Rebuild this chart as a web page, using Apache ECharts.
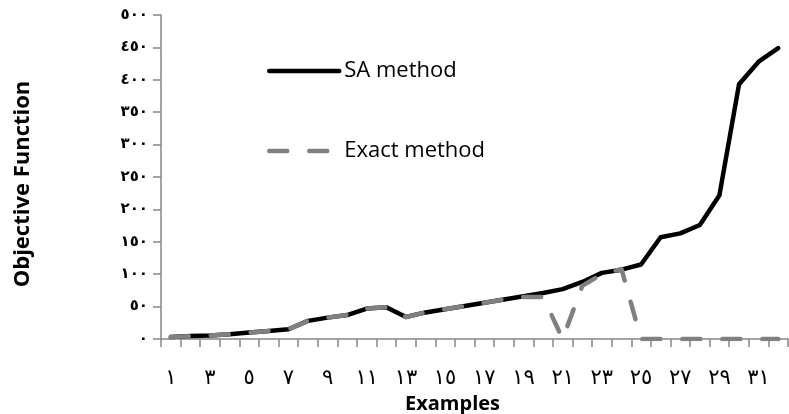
<!DOCTYPE html>
<html>
<head>
<meta charset="utf-8">
<script src="https://cdn.jsdelivr.net/npm/echarts@6/dist/echarts.min.js"></script>
<style>html,body{margin:0;padding:0;background:#fff}#c{width:789px;height:414px}</style>
</head>
<body>
<div id="c"></div>
<script>
var categories = ['١','٢','٣','٤','٥','٦','٧','٨','٩','١٠','١١','١٢','١٣','١٤','١٥','١٦','١٧','١٨','١٩','٢٠','٢١','٢٢','٢٣','٢٤','٢٥','٢٦','٢٧','٢٨','٢٩','٣٠','٣١','٣٢'];
var saValues = [3, 4.5, 5.5, 7.5, 10, 12.5, 15, 28, 33, 37, 47, 49, 34, 41, 46, 51, 56, 61, 66, 71, 77, 88, 102, 107, 115, 157, 163, 176, 222, 393, 428, 449];
var exactValues = [3, 4.5, 5.5, 7.5, 10, 12.5, 15, 28, 33, 37, 47, 49, 34, 41, 46, 51, 56, 61, 65, 65, 0, 82, 100, 108, 0, 0, 0, 0, 0, 0, 0, 0];
var yTickLabels = ['٠','٥٠','١٠٠','١٥٠','٢٠٠','٢٥٠','٣٠٠','٣٥٠','٤٠٠','٤٥٠','٥٠٠'];
var seriesNames = ['SA method', 'Exact method'];

var chart = echarts.init(document.getElementById('c'));
chart.setOption({
  animation: false,
  grid: {left: 161, right: 1, top: 15, bottom: 75, containLabel: false, outerBoundsMode: 'none'},
  legend: {
    orient: 'vertical', left: 262, top: 55,
    itemWidth: 70, itemHeight: 22, itemGap: 58,
    itemStyle: {opacity: 0},
    lineStyle: {width: 4.5},
    textStyle: {fontFamily: 'Open Sans', fontSize: 22, color: '#000'},
    data: seriesNames
  },
  xAxis: {
    type: 'category', data: categories, boundaryGap: true,
    name: 'Examples', nameLocation: 'middle', nameGap: 52,
    nameTextStyle: {fontFamily: 'Open Sans', fontWeight: 'bold', fontSize: 20, color: '#000', padding: [0, 44, 0, 0]},
    axisLine: {lineStyle: {color: '#868686', width: 1.5}},
    axisTick: {show: true, interval: 0, length: 8, lineStyle: {color: '#868686', width: 1.5}},
    axisLabel: {interval: 1, margin: 29, fontFamily: 'DejaVu Sans', fontSize: 21, color: '#000'}
  },
  yAxis: {
    type: 'value', min: 0, max: 500, interval: 50,
    name: 'Objective Function', nameLocation: 'middle', nameGap: 127,
    nameTextStyle: {fontFamily: 'Open Sans', fontWeight: 'bold', fontSize: 22, color: '#000', padding: [0, 14, 0, 0]},
    splitLine: {show: false},
    axisLine: {show: true, lineStyle: {color: '#868686', width: 1.5}},
    axisTick: {show: true, length: 8, lineStyle: {color: '#868686', width: 1.5}},
    axisLabel: {margin: 13, fontFamily: 'DejaVu Sans', fontWeight: 'bold', fontSize: 15, color: '#000',
      formatter: function (v) { return yTickLabels[Math.round(v / 50)]; }}
  },
  series: [
    {name: seriesNames[0], type: 'line', data: saValues, symbol: 'none', showSymbol: false,
      lineStyle: {color: '#000', width: 4.5, cap: 'round', join: 'round'}, itemStyle: {color: '#000'}},
    {name: seriesNames[1], type: 'line', data: exactValues, symbol: 'none', showSymbol: false,
      lineStyle: {color: '#808080', width: 4.5, type: [18, 22], cap: 'round', join: 'round'}, itemStyle: {color: '#808080'}}
  ]
});
</script>
</body>
</html>
